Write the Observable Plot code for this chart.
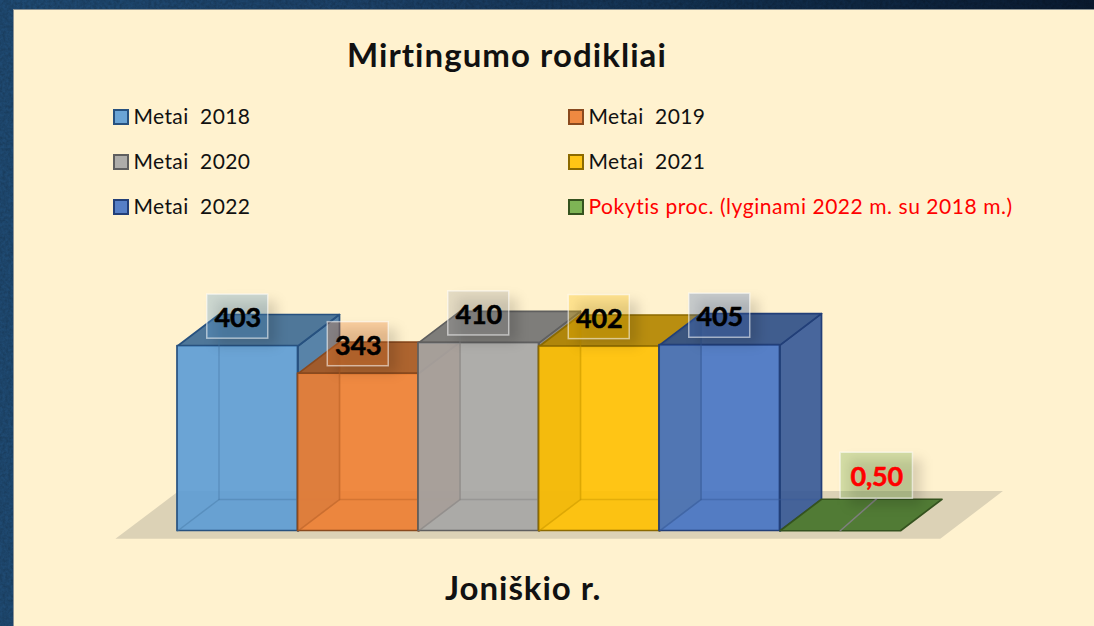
<!DOCTYPE html>
<html lang="lt">
<head>
<meta charset="utf-8">
<script src="https://cdn.jsdelivr.net/npm/d3@7"></script>
<script src="https://cdn.jsdelivr.net/npm/@observablehq/plot@0.6"></script>
<style>
html,body{margin:0;padding:0;width:1094px;height:626px;overflow:hidden;font-family:Lato,"Open Sans",sans-serif;font-variant-ligatures:none}
body{position:relative;background:linear-gradient(90deg,#1f4a72 0,#1c4066 35%,#12304f 65%,#0a1a30 100%)}
#grain{position:absolute;left:0;top:0;width:1094px;height:626px}
#panel{position:absolute;left:13px;top:9px;right:0;bottom:0;background:#FFF2CF;border-left:1.5px solid #8d9394;border-top:1.5px solid #8d9394;box-sizing:border-box}
#chart{position:absolute;left:0;top:0;width:1094px;height:626px}
#chart text{letter-spacing:-.2px;font-variant-ligatures:none}
.t{position:absolute;white-space:pre;color:#111}
#title{left:347px;top:34px;font-size:33px;font-weight:700;line-height:40px;letter-spacing:1.05px}
#cat{left:445px;top:567px;font-size:33px;font-weight:700;line-height:40px;letter-spacing:.95px}
.leg{font-size:21px;line-height:26px;letter-spacing:.38px}
.sw{position:absolute;width:16px;height:16px;box-sizing:border-box;border:2px solid}
</style>
</head>
<body>
<svg id="grain" aria-hidden="true"><filter id="n"><feTurbulence type="fractalNoise" baseFrequency=".35" numOctaves="3" seed="4"/><feColorMatrix values="0 0 0 0 0  0 0 0 0 0  0 0 0 0 0  0 0 0 .9 -.25"/></filter><rect width="1094" height="626" filter="url(#n)" opacity=".35"/></svg>
<div id="panel"></div>
<div id="chart"></div>
<div id="title" class="t">Mirtingumo rodikliai</div>
<div id="cat" class="t">Joniškio r.</div>
<script>
const seriesNames = ["Metai  2018","Metai  2019","Metai  2020","Metai  2021","Metai  2022","Pokytis proc. (lyginami 2022 m. su 2018 m.)"];
const values = [403,343,410,402,405,0.5];
const valueLabels = ["403","343","410","402","405","0,50"];
const colors = ["#5B9BD5","#ED7D31","#A5A5A5","#FFC000","#4472C4","#70AD47"];
const strokes = ["#27517F","#8A4A1E","#5F5F5F","#8C6A00","#223F78","#35531F"];

const W = 1094, H = 626;
const unitX = 120.5, unitY = 0.459, x0 = 177, base = 530.5;   // scale calibration
const depthX = 41.5/unitX, depthY = 31.5/unitY;
const floorPts = [[-0.515,-17],[6.33,-17],[6.85,87],[0.01,87]];

const poly = (pts,o) => Plot.line(pts.map(([x,y])=>({x,y})),{x:"x",y:"y",curve:"linear-closed",...o});
const dark = (c,k) => d3.rgb(c).darker(k).formatHex();

const marks = [poly(floorPts,{fill:"#DCD2B6",stroke:"none"})];
values.forEach((v,i)=>{
  const c = colors[i], s = strokes[i];
  const L=i,R=i+1,LB=L+depthX,RB=R+depthX;
  const common = {stroke:s,strokeWidth:1.7,strokeLinejoin:"round"};
  const isBar = i<values.length-1;
  if (isBar) marks.push(poly([[R,0],[RB,depthY],[RB,v+depthY],[R,v]],{fill:dark(c,.75),fillOpacity:.9,...common}));
  marks.push(poly([[L,v],[R,v],[RB,v+depthY],[LB,v+depthY]],{fill:dark(c,1),fillOpacity:isBar?.92:.98,...common}));
  if (isBar) {
    marks.push(Plot.rect([{x1:L,x2:R,y1:0,y2:v}],{x1:"x1",x2:"x2",y1:"y1",y2:"y2",fill:c,fillOpacity:.9,...common}));
    const hidden = {stroke:dark(c,.7),strokeWidth:1.5,strokeOpacity:.45};
    marks.push(Plot.line([{x:L,y:0},{x:LB,y:depthY},{x:RB,y:depthY}],{x:"x",y:"y",...hidden}));
    marks.push(Plot.line([{x:LB,y:depthY},{x:LB,y:v+depthY}],{x:"x",y:"y",...hidden}));
  }
});

// data labels with their translucent boxes
const last = values.length-1;
const rows = values.map((v,i)=>{
  const moved = i===last;
  const cx = i+.5+(moved?.303:0), cy = v+(moved?120:64);
  const hw = moved?.3:.253, hh = moved?50:48;
  return {cx,cy,x1:cx-hw,x2:cx+hw,y1:cy-hh,y2:cy+hh,label:valueLabels[i],fill:colors[i],
          ink:moved?"#FF0000":"#000000"};
});
const lead = rows[last];
marks.push(Plot.line([{x:lead.cx,y:lead.y1},{x:last+.5,y:values[last]}],{x:"x",y:"y",stroke:"#7f7f7f",strokeWidth:1.5}));
marks.push(Plot.rect(rows,{x1:"x1",x2:"x2",y1:"y1",y2:"y2",fill:"#000",fillOpacity:.14,dx:9,dy:7,imageFilter:"blur(6px)"}));
marks.push(Plot.rect(rows,{x1:"x1",x2:"x2",y1:"y1",y2:"y2",fill:"fill",fillOpacity:.3,stroke:"#ffffff",strokeOpacity:.55,strokeWidth:1.5}));
marks.push(Plot.text(rows,{x:"cx",y:"cy",text:"label",fill:"ink",stroke:"ink",strokeWidth:.5,fontSize:27,fontWeight:700,fontFamily:"Lato",dy:2}));

const plot = Plot.plot({
  width:W,height:H,margin:0,
  style:{background:"transparent"},
  x:{type:"linear",domain:[-x0/unitX,(W-x0)/unitX],axis:null},
  y:{type:"linear",domain:[-(H-base)/unitY,base/unitY],axis:null},
  color:{type:"identity"},
  marks
});
document.getElementById("chart").append(plot);

// legend: two columns, three rows
seriesNames.forEach((n,i)=>{
  const col=i%2,row=Math.floor(i/2);
  const left=113+col*455, cy=117+row*45;
  const sw=document.createElement("div");sw.className="sw";
  const swatch = d3.color(colors[i]).copy({opacity:.9}).formatRgb();
  sw.style.cssText=`left:${left}px;top:${cy-8}px;background:${swatch};border-color:${strokes[i]}`;
  document.body.append(sw);
  const t=document.createElement("div");t.className="t leg";t.textContent=n;
  t.style.left=(left+20.5)+"px";t.style.top=(cy-14)+"px";
  if(i===last){t.style.color="#FF0000";t.style.letterSpacing=".55px";}
  document.body.append(t);
});
</script>
</body>
</html>
